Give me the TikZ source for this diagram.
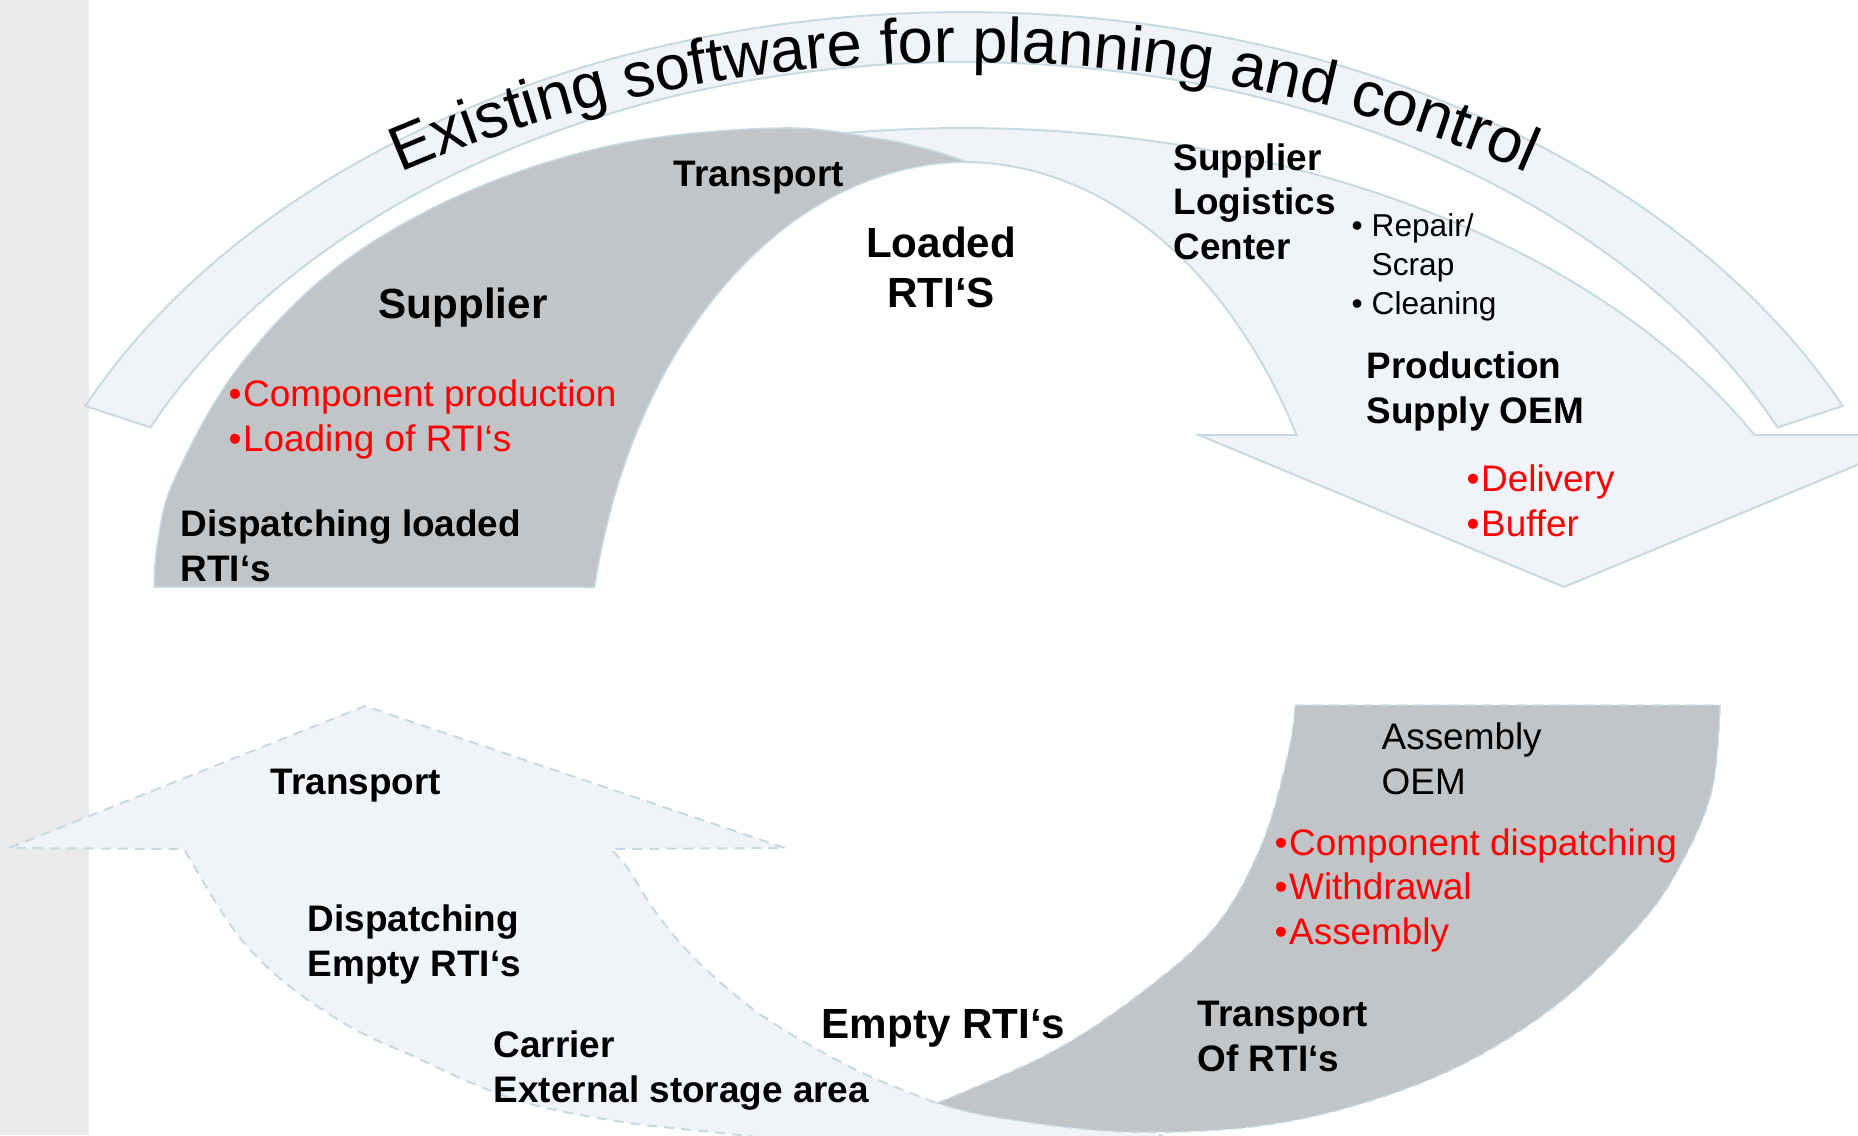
\documentclass[tikz,border=0pt]{standalone}
\usepackage{fontspec}
\setmainfont{Liberation Sans}
\usetikzlibrary{decorations.text}
\definecolor{lightfill}{HTML}{F0F4F8}
\definecolor{edgeblue}{HTML}{C6DAE4}
\definecolor{bandgrey}{HTML}{C2C5C8}
\definecolor{stripgrey}{HTML}{EBEBEB}
\definecolor{listred}{HTML}{FF0000}
\newcommand{\listdot}{\makebox[1.45mm][l]{•}}
\newcommand{\smalldot}{\makebox[2mm][l]{•}}
\tikzset{
  lightband/.style={fill=lightfill, draw=edgeblue, line width=0.2mm, line join=miter},
  greyband/.style={fill=bandgrey, draw=edgeblue, line width=0.15mm},
  dashededge/.style={dash pattern=on 1mm off 0.7mm},
  boldlbl/.style={inner sep=0pt, anchor=base west, align=left, font=\bfseries\fontsize{10.5}{12.6}\selectfont},
  biglbl/.style={boldlbl, font=\bfseries\fontsize{12}{14.2}\selectfont},
  plainlbl/.style={boldlbl, font=\fontsize{10.5}{12.6}\selectfont},
  smalllbl/.style={boldlbl, font=\fontsize{9}{11}\selectfont},
  redlbl/.style={plainlbl, text=listred}
}
\begin{document}
\begin{tikzpicture}[x=0.1mm, y=-0.1mm]
\useasboundingbox (0,0) rectangle (1858,1135);
\clip (0,0) rectangle (1858,1135);
\fill[stripgrey] (0,0) rectangle (89,1135);
\draw[lightband] plot[domain=205.3:334.7, samples=80] ({964+972*cos(\x)},{700+688*sin(\x)})
  -- plot[domain=334.7:205.3, samples=80] ({964+900*cos(\x)},{700+638*sin(\x)}) -- cycle;
\path[decorate, decoration={text along path, text align=center,
  text={|\fontsize{18}{20}\selectfont|Existing software for planning and control}}]
  plot[domain=200:340, samples=120] ({964+1000*cos(\x)},{700+638*sin(\x)});
\draw[lightband] plot[domain=258:332.4, samples=50] ({964+892*cos(\x)},{700+572*sin(\x)})
  -- (1929,435) -- (1564,587) -- (1199,435)
  -- plot[domain=330.5:270, samples=40] ({964+382*cos(\x)},{700+538*sin(\x)}) -- cycle;
\draw[greyband] plot[smooth, tension=0.6] coordinates {(154,587) (158,540) (175,478) (238,368) (337,267) (467,192) (618,144) (780,128) (880,139) (930,150) (968,162)}
  -- plot[domain=270:192.1, samples=40] ({968+382*cos(\x)},{700+538*sin(\x)}) -- cycle;
\draw[lightband, dashededge] plot[smooth, tension=0.6] coordinates {(1200,1152) (1000,1152) (850,1146) (712,1132) (623,1122) (534,1105) (474,1084) (415,1057) (356,1030) (297,992) (255,955) (225,917) (184,849)}
  -- (9,848) -- (365,706) -- (785,848)
  -- plot[smooth, tension=0.6] coordinates {(611,849) (629,870) (652,907) (682,945) (712,975) (753,1009) (801,1040) (867,1075) (937,1103)}
  -- (1120,1118) -- cycle;
\draw[greyband, dashededge] (1295,705) -- (1720,705)
  -- plot[smooth, tension=0.6] coordinates {(1720,706) (1712,790) (1682,862) (1640,924) (1551,1009) (1433,1078) (1285,1122) (1133,1132) (1000,1118) (937,1103)}
  -- plot[smooth, tension=0.6] coordinates {(937,1103) (1048,1054) (1137,996) (1214,928) (1261,846) (1288,754) (1295,706)} -- cycle;
\node[boldlbl] (transportTop) at (673,186) {Transport};
\node[biglbl] (supplier) at (378,318) {Supplier};
\node[biglbl, anchor=base, align=center] (loaded) at (941,307) {Loaded\\RTI‘S};
\node[redlbl] (supplierTasks) at (228,451) {\listdot Component production\\\listdot Loading of RTI‘s};
\node[boldlbl] (dispatchLoaded) at (180,581) {Dispatching loaded\\RTI‘s};
\node[boldlbl] (slc) at (1173,259) {Supplier\\Logistics\\Center};
\node[smalllbl] (slcTasks) at (1351,314) {\smalldot Repair/\\\hspace*{2mm}Scrap\\\smalldot Cleaning};
\node[boldlbl] (prodSupply) at (1366,423) {Production\\Supply OEM};
\node[redlbl] (supplyTasks) at (1466,536) {\listdot Delivery\\\listdot Buffer};
\node[boldlbl] (transportLow) at (270,794) {Transport};
\node[boldlbl] (dispatchEmpty) at (307,976) {Dispatching\\Empty RTI‘s};
\node[boldlbl] (carrier) at (493,1102) {Carrier\\External storage area};
\node[biglbl] (empty) at (821,1038) {Empty RTI‘s};
\node[plainlbl] (assembly) at (1381,794) {Assembly\\OEM};
\node[redlbl] (assemblyTasks) at (1274,944) {\listdot Component dispatching\\\listdot Withdrawal\\\listdot Assembly};
\node[boldlbl] (transportOf) at (1197,1071) {Transport\\Of RTI‘s};
\end{tikzpicture}
\end{document}
